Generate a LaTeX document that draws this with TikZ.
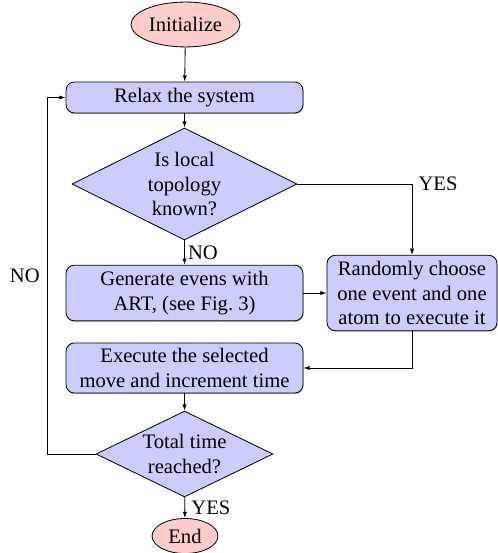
\documentclass[tikz,border=0pt]{standalone}
\usepackage{fontspec}
\setmainfont{Liberation Serif}
\usetikzlibrary{shapes.geometric,arrows.meta,shadows}
\begin{document}
\begin{tikzpicture}[x=0.4854pt,y=-0.4854pt,
  >={Latex[length=3pt,width=2pt]},
  startstop/.style={ellipse,draw,fill=red!20,inner sep=0pt},
  procbox/.style={rectangle,rounded corners=4pt,draw,fill=blue!20,align=center,inner sep=0pt,
    drop shadow={shadow xshift=0.3pt,shadow yshift=-0.5pt,opacity=0.5,fill=black!60}},
  decision/.style={diamond,aspect=2,draw,fill=blue!20,align=center,inner sep=0pt},
  conn/.style={->,draw}]
\useasboundingbox (0,0) rectangle (498,553);
\node[startstop,minimum width=52.9pt,minimum height=21.8pt] (init) at (185.5,24.5) {Initialize};
\node[procbox,minimum width=115pt,minimum height=15pt] (relax) at (184.5,97.5) {Relax the system};
\node[decision,minimum width=109.2pt,minimum height=54.4pt] (d1) at (184.5,184) {Is local\\topology\\known?};
\node[procbox,minimum width=115pt,minimum height=27pt] (gen) at (184.5,293) {Generate evens with\\ART, (see Fig.~3)};
\node[procbox,minimum width=82.5pt,minimum height=36.6pt] (rand) at (412,293) {Randomly choose\\one event and one\\atom to execute it};
\node[procbox,minimum width=115pt,minimum height=24.3pt] (exec) at (184.5,368) {Execute the selected\\move and increment time};
\node[decision,minimum width=85.9pt,minimum height=41.7pt] (d2) at (184.5,454) {Total time\\reached?};
\node[startstop,minimum width=32pt,minimum height=17pt] (end) at (185,536) {End};
\coordinate (loopb) at (47,454);
\coordinate (loopt) at (47,97.5);

\draw[conn] (init) -- (relax);
\draw[conn] (relax) -- (d1);
\draw[conn] (d1) -- node[right,inner sep=1.5pt]{NO} (gen);
\draw[conn] (d1.east) -| node[pos=0.5,right,inner sep=3pt]{YES} (rand.north);
\draw[conn] (gen) -- (rand);
\draw[conn] (rand.south) |- (exec.east);
\draw[conn] (exec) -- (d2);
\draw[conn] (d2) -- node[right,inner sep=3pt]{YES} (end);
\draw[conn] (d2.west) -- (loopb) -- node[left]{NO} (loopt) -- (relax.west);
\end{tikzpicture}
\end{document}
